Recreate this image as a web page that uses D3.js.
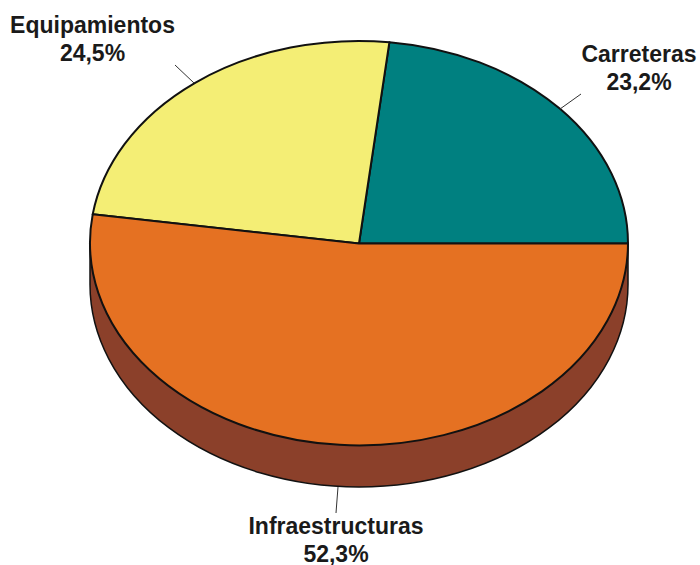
<!DOCTYPE html>
<html lang="en">
<head>
    <meta charset="utf-8">
    <title>Reparto</title>
    <script src="https://cdnjs.cloudflare.com/ajax/libs/d3/7.8.5/d3.min.js"></script>
    <style>
        html, body { margin: 0; padding: 0; background: #fff; }
        svg { display: block; }
        text { font-family: "Liberation Sans", Arial, sans-serif; font-weight: bold; font-size: 23px; fill: #1a1a1a; text-anchor: middle; }
    </style>
</head>
<body>
    <svg id="canvas" width="700" height="565"></svg>
    <script>
        //Data
        const categories = ["Carreteras", "Equipamientos", "Infraestructuras"];
        const shares = [23.2, 24.5, 52.3];
        const shareLabels = ["23,2%", "24,5%", "52,3%"];
        const colors = ["#008080", "#F4EE75", "#E57122"];
        const sideColor = "#8B402A";

        //Pie geometry
        const cx = 359, cy = 243.5, rx = 269, ry = 202.5, depth = 41;

        const svg = d3.select("#canvas");

        //side wall, only the front half shows
        svg.append("path")
            .attr("d", `M${cx - rx},${cy} L${cx - rx},${cy + depth} A${rx},${ry} 0 0 0 ${cx + rx},${cy + depth} L${cx + rx},${cy} Z`)
            .attr("fill", sideColor)
            .attr("stroke", "#111")
            .attr("stroke-width", 1.5);

        //slices go counter clockwise from 3 o'clock
        const pie = d3.pie()
            .sort(null)
            .startAngle(Math.PI / 2)
            .endAngle(Math.PI / 2 - 2 * Math.PI);

        const arc = d3.arc().innerRadius(0).outerRadius(1);

        svg.append("g")
            .attr("transform", `translate(${cx},${cy}) scale(${rx},${ry})`)
            .selectAll("path")
            .data(pie(shares))
            .join("path")
            .attr("d", arc)
            .attr("fill", (d, i) => colors[i])
            .attr("stroke", "#111")
            .attr("stroke-width", 2)
            .attr("stroke-linejoin", "round")
            .attr("vector-effect", "non-scaling-stroke");

        //Leader lines and labels
        const leaders = [
            { x1: 581, y1: 94, x2: 560, y2: 109, tx: 639, ty: 62 },
            { x1: 175, y1: 65, x2: 194, y2: 83, tx: 92.5, ty: 33 },
            { x1: 338, y1: 487, x2: 336, y2: 513, tx: 336, ty: 534 }
        ];

        svg.append("g")
            .selectAll("line")
            .data(leaders)
            .join("line")
            .attr("x1", d => d.x1).attr("y1", d => d.y1)
            .attr("x2", d => d.x2).attr("y2", d => d.y2)
            .attr("stroke", "#333")
            .attr("stroke-width", 1);

        const labels = svg.append("g")
            .selectAll("text")
            .data(leaders)
            .join("text")
            .attr("transform", d => `translate(${d.tx},${d.ty})`);

        labels.append("tspan")
            .attr("x", 0)
            .text((d, i) => categories[i]);

        labels.append("tspan")
            .attr("x", 0)
            .attr("dy", 27.5)
            .text((d, i) => shareLabels[i]);
    </script>
</body>
</html>
